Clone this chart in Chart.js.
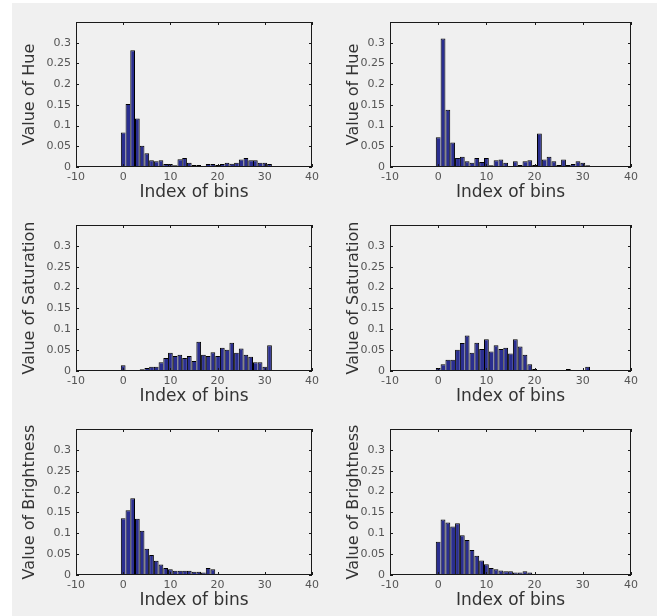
<!DOCTYPE html>
<html>
<head>
<meta charset="utf-8">
<title>HSV histograms</title>
<script src="https://cdn.jsdelivr.net/npm/chart.js@4.4.0/dist/chart.umd.min.js"></script>
<style>
  html, body { margin: 0; padding: 0; background: #fff; }
  #fig { position: absolute; left: 12px; top: 3px; width: 645px; height: 613px; background: #f0f0f0; }
  canvas { position: absolute; }
</style>
</head>
<body>
<div id="fig"></div>
<script>
// bin index 0..31
const bins = [0, 1, 2, 3, 4, 5, 6, 7, 8, 9, 10, 11, 12, 13, 14, 15,
  16, 17, 18, 19, 20, 21, 22, 23, 24, 25, 26, 27, 28, 29, 30, 31];

const xTicks = [-10, 0, 10, 20, 30, 40];
const yTicks = [0, 0.05, 0.1, 0.15, 0.2, 0.25, 0.3];

// left column
const hueA = [0.083, 0.152, 0.282, 0.117, 0.051, 0.033, 0.016, 0.014, 0.016, 0.007, 0.007, 0.004,
  0.019, 0.022, 0.010, 0.005, 0.005, 0.002, 0.007, 0.007, 0.005, 0.007, 0.010, 0.008,
  0.010, 0.018, 0.022, 0.016, 0.016, 0.010, 0.010, 0.007];
const satA = [0.014, 0.002, 0.002, 0.002, 0.004, 0.007, 0.010, 0.010, 0.021, 0.031, 0.044, 0.036,
  0.039, 0.031, 0.036, 0.024, 0.070, 0.039, 0.036, 0.045, 0.036, 0.056, 0.051, 0.068,
  0.044, 0.054, 0.039, 0.034, 0.021, 0.021, 0.010, 0.062];
const briA = [0.136, 0.155, 0.184, 0.135, 0.106, 0.063, 0.048, 0.034, 0.025, 0.017, 0.014, 0.010,
  0.010, 0.010, 0.010, 0.008, 0.008, 0.006, 0.017, 0.014, 0.003, 0.002, 0.002, 0.002,
  0.002, 0.002, 0.002, 0.002, 0.002, 0.002, 0.002, 0];

// right column
const hueB = [0.072, 0.310, 0.138, 0.059, 0.022, 0.025, 0.014, 0.010, 0.022, 0.012, 0.022, 0.004,
  0.016, 0.018, 0.010, 0.002, 0.014, 0.005, 0.014, 0.016, 0.005, 0.081, 0.018, 0.025,
  0.014, 0.005, 0.018, 0.005, 0.007, 0.014, 0.010, 0.004];
const satB = [0.007, 0.016, 0.027, 0.027, 0.051, 0.067, 0.085, 0.044, 0.068, 0.053, 0.076, 0.047,
  0.062, 0.053, 0.056, 0.042, 0.076, 0.059, 0.039, 0.016, 0.005, 0.002, 0.002, 0.002,
  0.002, 0.002, 0.002, 0.005, 0.002, 0, 0.001, 0.010];
const briB = [0.080, 0.133, 0.126, 0.116, 0.124, 0.095, 0.084, 0.060, 0.046, 0.035, 0.026, 0.017,
  0.014, 0.011, 0.009, 0.009, 0.006, 0.006, 0.009, 0.006, 0.002, 0.002, 0.002, 0.002,
  0.002, 0.002, 0.002, 0.002, 0, 0, 0, 0];

const panels = [
  { values: hueA, ytitle: "Value of Hue", col: 0, row: 0 },
  { values: hueB, ytitle: "Value of Hue", col: 1, row: 0 },
  { values: satA, ytitle: "Value of Saturation", col: 0, row: 1 },
  { values: satB, ytitle: "Value of Saturation", col: 1, row: 1 },
  { values: briA, ytitle: "Value of Brightness", col: 0, row: 2 },
  { values: briB, ytitle: "Value of Brightness", col: 1, row: 2 },
];

// figure layout (pixels)
const colCanvasLeft = [12, 326];
const colPlotLeft = [76, 390];
const colPlotRight = [312, 631];
const rowPlotTop = [22, 225, 429];
const rowPlotBottom = [167, 371, 575];
const titleCenterX = [30, 354];

const FONT = "'DejaVu Sans', 'Liberation Sans', sans-serif";

// box with inward ticks on all four sides
const framePlugin = {
  id: "frame",
  afterDraw(chart) {
    const { ctx, chartArea: a } = chart;
    const xs = chart.scales.x, ys = chart.scales.y;
    ctx.save();
    ctx.strokeStyle = "#1a1a1a";
    ctx.lineWidth = 1;
    ctx.strokeRect(Math.round(a.left) + 0.5, Math.round(a.top) + 0.5,
      Math.round(a.right - a.left) - 1, Math.round(a.bottom - a.top) - 1);
    ctx.beginPath();
    xTicks.forEach((v) => {
      const px = Math.round(xs.getPixelForValue(v)) + 0.5;
      ctx.moveTo(px, a.bottom); ctx.lineTo(px, a.bottom - 3);
      ctx.moveTo(px, a.top); ctx.lineTo(px, a.top + 3);
    });
    yTicks.forEach((v) => {
      const py = Math.round(ys.getPixelForValue(v)) + 0.5;
      ctx.moveTo(a.left, py); ctx.lineTo(a.left + 3, py);
      ctx.moveTo(a.right, py); ctx.lineTo(a.right - 3, py);
    });
    ctx.stroke();
    ctx.restore();
  }
};

panels.forEach((p) => {
  const canvas = document.createElement("canvas");
  const left = colCanvasLeft[p.col];
  const top = rowPlotTop[p.row] - 12;
  const width = colPlotRight[p.col] + 14 - left;
  const height = rowPlotBottom[p.row] + 46 - top;
  canvas.width = width;
  canvas.height = height;
  canvas.style.left = left + "px";
  canvas.style.top = top + "px";
  canvas.style.width = width + "px";
  canvas.style.height = height + "px";
  document.body.appendChild(canvas);

  const yAxisWidth = colPlotLeft[p.col] - left;
  const yTitleOffset = titleCenterX[p.col] - left - 9.6;
  const vals = p.values;

  new Chart(canvas.getContext("2d"), {
    type: "bar",
    data: {
      datasets: [{
        data: bins.map((b, i) => ({ x: b, y: vals[i] })),
        backgroundColor: "#2a2e8f",
        borderColor: "#000",
        // touching bars: shared edge drawn once, right edge only where the next bar is lower
        borderWidth: (c) => {
          const i = c.dataIndex;
          const next = i + 1 < vals.length ? vals[i + 1] : 0;
          return { top: 1, left: 1, bottom: 0, right: next < vals[i] ? 1 : 0 };
        },
        barPercentage: 1,
        categoryPercentage: 1,
        inflateAmount: 0,
      }]
    },
    options: {
      responsive: false,
      animation: false,
      devicePixelRatio: 1,
      layout: { padding: { top: 12, right: 14, left: 0, bottom: 0 } },
      plugins: { legend: { display: false }, tooltip: { enabled: false } },
      scales: {
        x: {
          type: "linear",
          min: -10,
          max: 40,
          offset: false,
          afterBuildTicks: (s) => { s.ticks = xTicks.map((v) => ({ value: v })); },
          afterFit: (s) => { s.height = 46; },
          grid: { display: false, drawTicks: false, offset: false },
          border: { display: false },
          ticks: { padding: 4, color: "#555", font: { family: FONT, size: 11 } },
          title: {
            display: true, text: "Index of bins", color: "#333",
            font: { family: FONT, size: 17 }, padding: { top: 0, bottom: 9.8 }
          }
        },
        y: {
          type: "linear",
          min: 0,
          max: 0.35,
          afterBuildTicks: (s) => { s.ticks = yTicks.map((v) => ({ value: v })); },
          afterFit: (s) => { s.width = yAxisWidth; },
          grid: { display: false, drawTicks: false },
          border: { display: false },
          ticks: {
            padding: 5, color: "#555", font: { family: FONT, size: 11 },
            callback: (v) => String(+v.toFixed(2))
          },
          title: {
            display: true, text: p.ytitle, color: "#333",
            font: { family: FONT, size: 16 }, padding: { top: yTitleOffset, bottom: 0 }
          }
        }
      }
    },
    plugins: [framePlugin]
  });
});
</script>
</body>
</html>
